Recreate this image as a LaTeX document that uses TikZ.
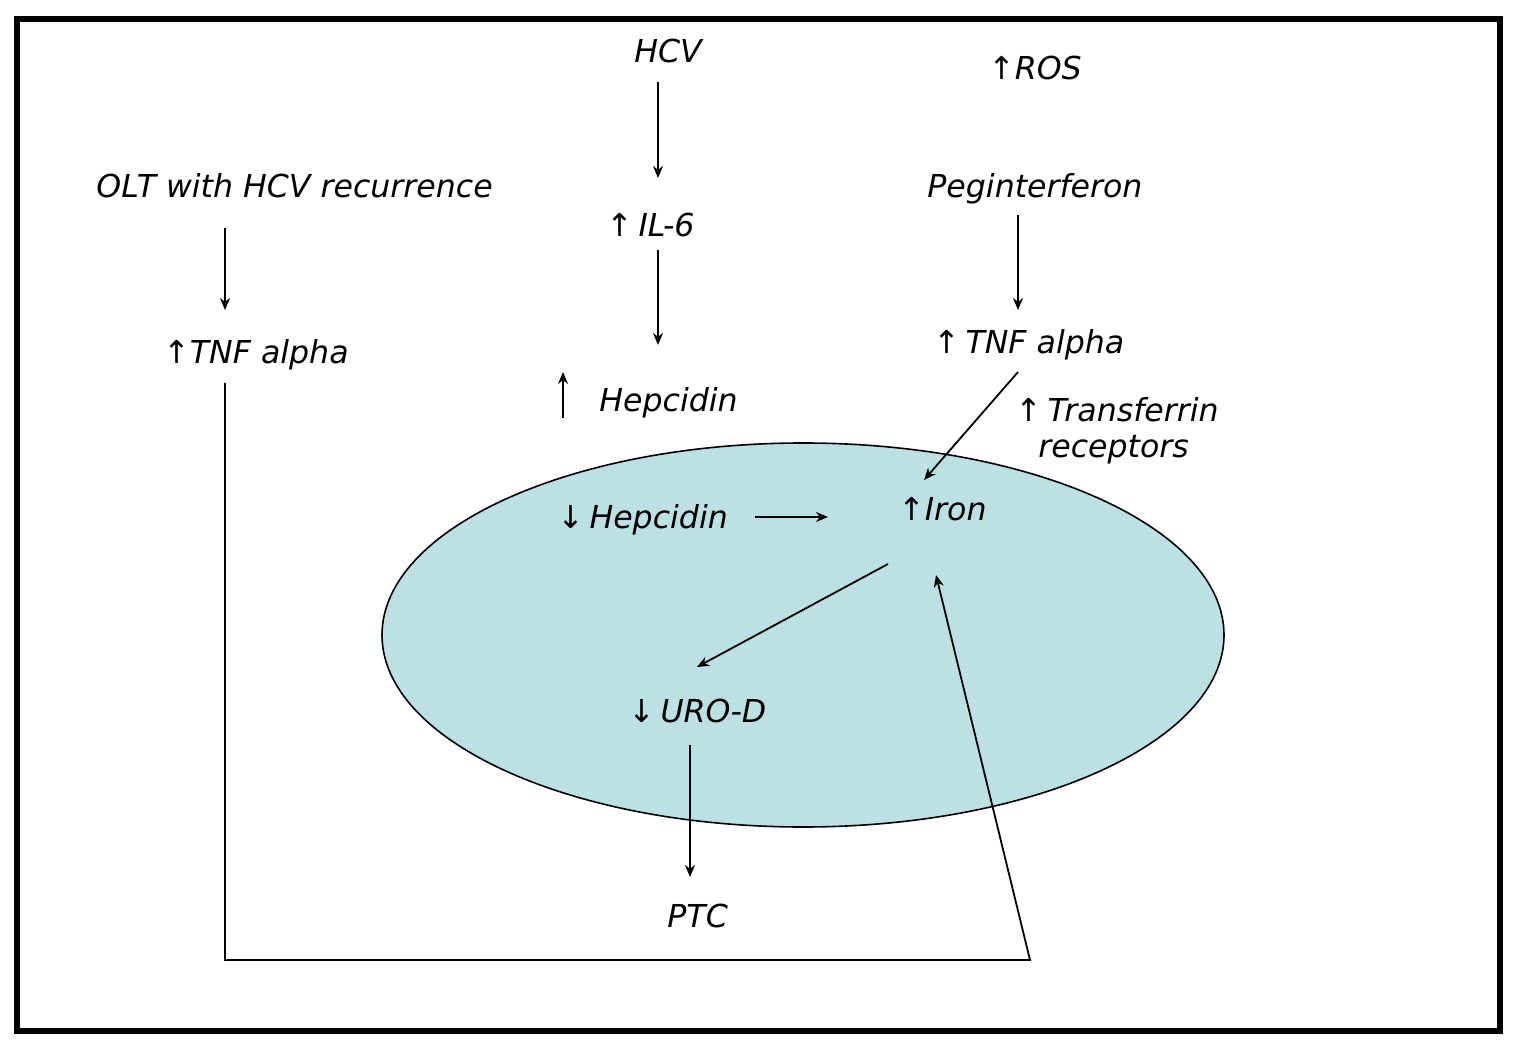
\documentclass[tikz,border=0pt]{standalone}
\usepackage{fontspec}
\setmainfont{DejaVu Sans}
\usetikzlibrary{arrows.meta,calc,shapes.geometric}
\definecolor{cellblue}{RGB}{188,224,228}
\newcommand{\gapsp}{\hspace{0.18em}}
\begin{document}
\begin{tikzpicture}[x=0.5pt,y=-0.5pt,
  lbl/.style={anchor=base west,inner sep=0pt,font=\fontsize{15.8}{19}\selectfont\itshape},
  arr/.style={line width=0.9pt,-{Stealth[length=6pt,width=5pt]}},
  plain/.style={line width=0.9pt}]
\useasboundingbox (0,0) rectangle (1524,1052);
\draw[line width=2.6pt] (17,19) rectangle (1500,1031);
\node[ellipse,draw,line width=0.8pt,fill=cellblue,minimum width=421pt,minimum height=192pt,inner sep=0pt] (cell) at (803,635) {};
% labels
\node[lbl] (hcv) at (634,63) {HCV};
\node[lbl] (ros) at (988,80) {↑ROS};
\node[lbl] (olt) at (96,198) {OLT with HCV recurrence};
\node[lbl] (peg) at (927,198) {Peginterferon};
\node[lbl] (il6) at (606,237) {↑\gapsp IL-6};
\node[lbl] (tnfL) at (163,364) {↑TNF alpha};
\node[lbl] (tnfR) at (933,354) {↑\gapsp TNF alpha};
\node[lbl] (hep) at (599,412) {Hepcidin};
\node[lbl] (tr1) at (1015,422) {↑\gapsp Transferrin};
\node[lbl] (tr2) at (1038,458) {receptors};
\node[lbl] (hepd) at (557,529) {↓\gapsp Hepcidin};
\node[lbl] (iron) at (898,521) {↑Iron};
\node[lbl] (uro) at (628,722) {↓\gapsp URO-D};
\node[lbl] (ptc) at (667,927) {PTC};
% connectors
\draw[arr] ($(hcv.base west)+(24,19)$) -- ($(il6.base west)+(52,-59)$);
\draw[arr] ($(il6.base west)+(52,13)$) -- ($(hep.base west)+(59,-67)$);
\draw[arr] ($(olt.base west)+(129,30)$) -- ($(tnfL.base west)+(62,-54)$);
\draw[arr] ($(peg.base west)+(91,17)$) -- ($(tnfR.base west)+(85,-44)$);
\draw[arr] ($(tnfR.base west)+(85,18)$) -- ($(iron.base west)+(26,-41)$);
\draw[arr] ($(hepd.base west)+(198,-12)$) -- ($(iron.base west)+(-70,-4)$);
\draw[arr] ($(iron.base west)+(-10,43)$) -- ($(uro.base west)+(69,-55)$);
\draw[arr] ($(uro.base west)+(62,23)$) -- ($(ptc.base west)+(23,-50)$);
\draw[arr] ($(tnfL.base west)+(62,19)$) -- ++(0,577) -- ++(805,0) -- ($(iron.base west)+(38,54)$);
\draw[arr] ($(hep.base west)+(-36,6)$) -- ($(hep.base west)+(-36,-40)$);
\end{tikzpicture}
\end{document}
